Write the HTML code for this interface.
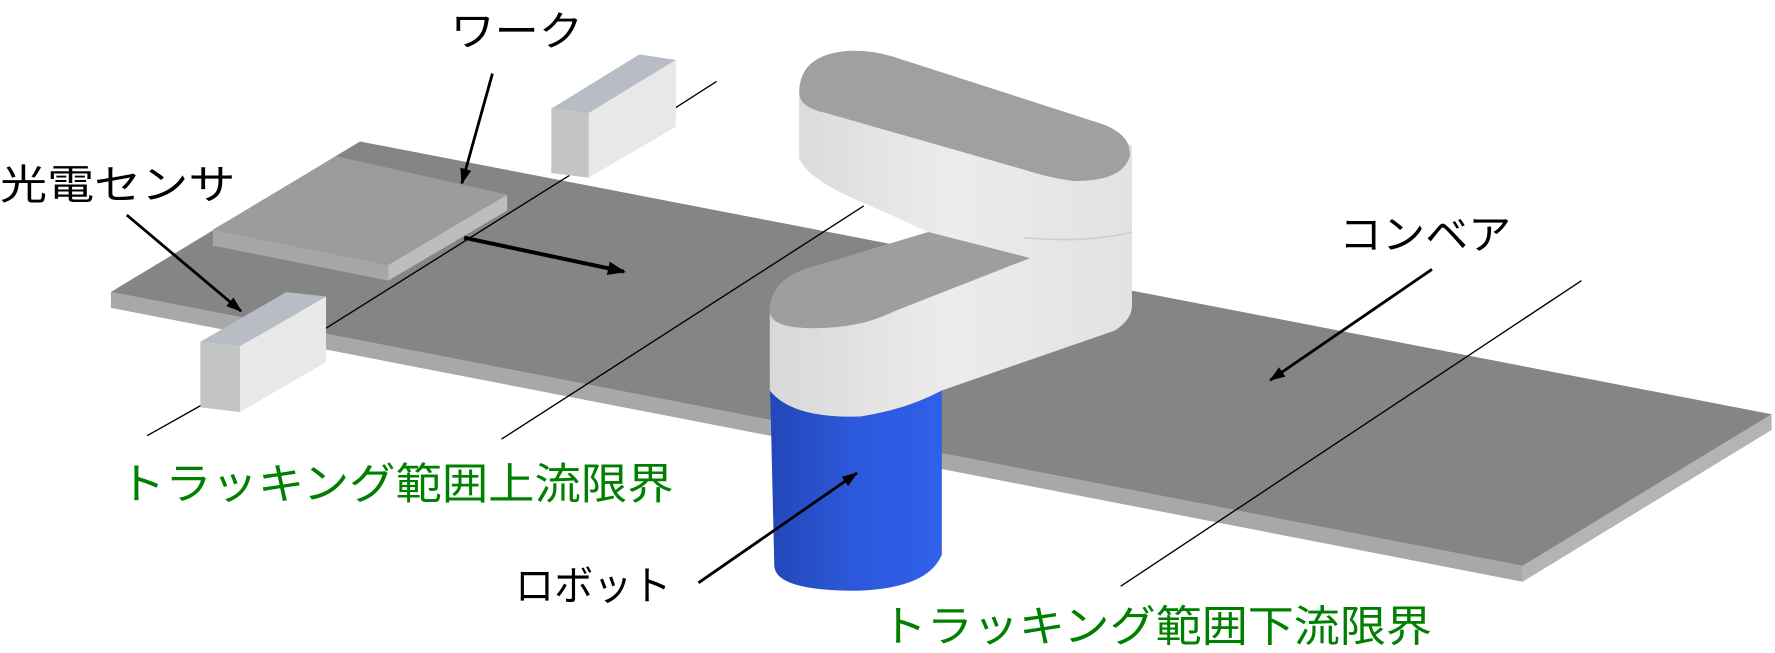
<!DOCTYPE html>
<html><head><meta charset="utf-8"><style>html,body{margin:0;padding:0;background:#fff}svg{display:block}</style></head>
<body>
<svg width="1775" height="653" viewBox="0 0 1568 577" preserveAspectRatio="none" xmlns="http://www.w3.org/2000/svg" font-family="'Liberation Sans','Noto Sans CJK JP',sans-serif">
<defs>
<marker id="ah" markerWidth="14" markerHeight="10" refX="13" refY="5" orient="auto" markerUnits="userSpaceOnUse"><path d="M0,0 L14,5 L0,10 Z" fill="#000"/></marker>
<marker id="ah2" markerWidth="16" markerHeight="12" refX="14" refY="6" orient="auto" markerUnits="userSpaceOnUse"><path d="M0,0 L16,6 L0,12 Z" fill="#000"/></marker>
<linearGradient id="blue" x1="0" x2="1"><stop offset="0" stop-color="#2347b8"/><stop offset="0.5" stop-color="#2c58dc"/><stop offset="1" stop-color="#3060ea"/></linearGradient>
<linearGradient id="wh" x1="0" x2="1"><stop offset="0" stop-color="#d8d8d8"/><stop offset="0.5" stop-color="#ececec"/><stop offset="1" stop-color="#e2e2e2"/></linearGradient>
</defs>
<polygon points="98,258 1345,500 1345,514 98,272" fill="#a8a8a8"/>
<polygon points="1345,500 1565,366 1565,380 1345,514" fill="#b4b4b4"/>
<polygon points="98,258 318,125 1565,366 1345,500" fill="#858585"/>
<polygon points="188,203 343,234 343,248 188,217" fill="#a6a6a6"/>
<polygon points="343,234 448,172 448,186 343,248" fill="#bdbdbd"/>
<polygon points="188,203 297,138 448,172 343,234" fill="#9c9c9c"/>
<line x1="130" y1="385" x2="178" y2="358" stroke="#000" stroke-width="1.2"/>
<line x1="288" y1="290" x2="503" y2="155" stroke="#000" stroke-width="1.2"/>
<line x1="597" y1="95" x2="633" y2="72" stroke="#000" stroke-width="1.2"/>
<line x1="443" y1="388" x2="763" y2="182" stroke="#000" stroke-width="1.2"/>
<line x1="990" y1="518" x2="1397" y2="248" stroke="#000" stroke-width="1.2"/>
<polygon points="177,302 253,258 288,262 212,306" fill="#b8bcc4"/>
<polygon points="212,306 288,262 288,320 212,364" fill="#e8e8e8"/>
<polygon points="177,302 212,306 212,364 177,360" fill="#c4c4c4"/>
<polygon points="487,96 565,48 597,53 520,100" fill="#b8bcc4"/>
<polygon points="520,100 597,53 597,112 520,157" fill="#e8e8e8"/>
<polygon points="487,96 520,100 520,157 487,153" fill="#c4c4c4"/>
<path d="M680,330 L832,330 L832,490 Q820,520 757,522 Q685,522 684,500 Z" fill="url(#blue)"/>
<path d="M706,82 L706,140 Q715,160 765,180 L820,205 Q720,235 692,255 Q680,265 680,278 L680,345 Q700,370 760,368 Q800,362 832,345 L985,292 Q1000,282 1000,270 L1000,128 Z" fill="url(#wh)"/>
<path d="M905,210 Q960,215 1000,205" fill="none" stroke="#cfcfcf" stroke-width="1.5"/>
<path d="M680,275 Q680,245 720,235 L820,205 L910,228 L790,275 Q760,290 720,290 Q680,290 680,275 Z" fill="#9e9e9e"/>
<path d="M706,82 Q706,48 750,45 Q772,44 795,52 L975,110 Q1000,120 998,138 Q992,160 950,160 Q930,158 905,150 L730,100 Q706,95 706,82 Z" fill="#a0a0a0"/>
<line x1="435" y1="65" x2="408" y2="162" stroke="#000" stroke-width="2.5" marker-end="url(#ah)"/>
<line x1="112" y1="190" x2="213" y2="275" stroke="#000" stroke-width="2.5" marker-end="url(#ah)"/>
<line x1="410" y1="210" x2="551" y2="240" stroke="#000" stroke-width="3.5" marker-end="url(#ah2)"/>
<line x1="1265" y1="238" x2="1122" y2="336" stroke="#000" stroke-width="2.5" marker-end="url(#ah)"/>
<line x1="617" y1="515" x2="757" y2="418" stroke="#000" stroke-width="2.5" marker-end="url(#ah)"/>
<text x="398" y="40" font-size="36" textLength="117" lengthAdjust="spacingAndGlyphs">ワーク</text>
<text x="0" y="176" font-size="36" textLength="208" lengthAdjust="spacingAndGlyphs">光電センサ</text>
<text x="1183" y="220" font-size="36" textLength="152" lengthAdjust="spacingAndGlyphs">コンベア</text>
<text x="455" y="530" font-size="36" textLength="138" lengthAdjust="spacingAndGlyphs">ロボット</text>
<text x="105" y="441" font-size="38" fill="#008000" textLength="490" lengthAdjust="spacingAndGlyphs">トラッキング範囲上流限界</text>
<text x="778" y="567" font-size="38" fill="#008000" textLength="487" lengthAdjust="spacingAndGlyphs">トラッキング範囲下流限界</text>
</svg>
</body></html>
